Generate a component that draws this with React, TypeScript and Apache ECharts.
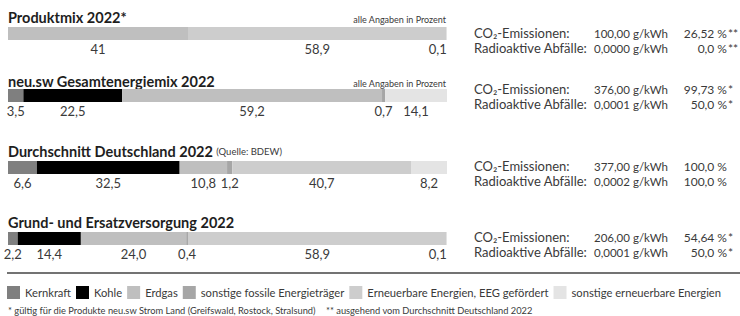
import React, { useEffect, useRef } from "react";
import * as echarts from "echarts";

const energyCategories = [
  "Kernkraft",
  "Kohle",
  "Erdgas",
  "sonstige fossile Energieträger",
  "Erneuerbare Energien, EEG gefördert",
  "sonstige erneuerbare Energien",
];

const rowTitles = [
  "Produktmix 2022*",
  "neu.sw Gesamtenergiemix 2022",
  "Durchschnitt Deutschland 2022",
  "Grund- und Ersatzversorgung 2022",
];
const rowSources = ["", "", "(Quelle: BDEW)", ""];
const rowNotes = ["alle Angaben in Prozent", "alle Angaben in Prozent", "", ""];

// percent shares per energy source, one value per row
const kernkraft = [0, 3.5, 6.6, 2.2];
const kohle = [0, 22.5, 32.5, 14.4];
const erdgas = [41, 59.2, 10.8, 24.0];
const sonstigeFossile = [0, 0.7, 1.2, 0.4];
const erneuerbarEEG = [58.9, 0, 40.7, 58.9];
const sonstigeErneuerbare = [0.1, 14.1, 8.2, 0.1];
const seriesValues = [kernkraft, kohle, erdgas, sonstigeFossile, erneuerbarEEG, sonstigeErneuerbare];

// right side key figures
const co2Values = ["100,00 g/kWh", "376,00 g/kWh", "377,00 g/kWh", "206,00 g/kWh"];
const co2Percent = ["26,52 %", "99,73 %", "100,0 %", "54,64 %"];
const co2Marks = ["**", "*", "", "*"];
const radValues = ["0,0000 g/kWh", "0,0001 g/kWh", "0,0002 g/kWh", "0,0001 g/kWh"];
const radPercent = ["0,0 %", "50,0 %", "100,0 %", "50,0 %"];
const radMarks = ["**", "*", "", "*"];

const footnote1 = "* gültig für die Produkte neu.sw Strom Land (Greifswald, Rostock, Stralsund)";
const footnote2 = "** ausgehend vom Durchschnitt Deutschland 2022";

// styles / layout
const palette = ["#7f7f7f", "#000000", "#bfbfbf", "#a6a6a6", "#cdcdcd", "#e4e4e4"];
const barTops = [27, 89, 161, 232];
const barHeight = 13;
const titleY = [17, 81, 151, 222];
const infoY = [33, 89, 166, 237];
const FONT = "Lato";
const TEXT = "#3a3a3a";

function fmt(row: number, v: number) {
  const s = row === 0 ? String(v) : v.toFixed(1);
  return s.replace(".", ",");
}

function txt(text: string, x: number, y: number, extra: any = {}) {
  const align = extra.align || "left";
  return {
    type: "text",
    silent: true,
    style: {
      text,
      x,
      y,
      fontFamily: FONT,
      fontSize: 13,
      fill: TEXT,
      align,
      textAlign: align,
      verticalAlign: "middle",
      textVerticalAlign: "middle",
      ...extra,
    },
  };
}

export default function App() {
  const ref = useRef<HTMLDivElement>(null);
  useEffect(() => {
    if (!ref.current) return;
    const chart = echarts.init(ref.current, undefined, { renderer: "svg" });

    const grids: any[] = [];
    const xAxes: any[] = [];
    const yAxes: any[] = [];
    const series: any[] = [];
    rowTitles.forEach((_, r) => {
      grids.push({ left: 8, width: 439, top: barTops[r], height: barHeight });
      xAxes.push({ type: "value", gridIndex: r, min: 0, max: 100, show: false });
      yAxes.push({ type: "category", gridIndex: r, data: [rowTitles[r]], show: false });
      energyCategories.forEach((name, c) => {
        const v = seriesValues[c][r];
        const lbl: any = { show: v > 0 };
        if (c === energyCategories.length - 1 && v < 1) lbl.align = "right";
        series.push({
          type: "bar",
          name,
          stack: "row" + r,
          xAxisIndex: r,
          yAxisIndex: r,
          barWidth: "100%",
          silent: true,
          itemStyle: { color: palette[c] },
          emphasis: { disabled: true },
          label: {
            show: true,
            position: "bottom",
            distance: 2,
            fontFamily: FONT,
            fontSize: 13,
            color: TEXT,
            formatter: (p: any) => fmt(r, p.value),
          },
          data: [{ value: v, label: lbl }],
        });
      });
    });

    const graphics: any[] = [];
    rowTitles.forEach((t, r) => {
      graphics.push({
        type: "text",
        silent: true,
        style: {
          text: rowSources[r] ? `{b|${t}} {s|${rowSources[r]}}` : `{b|${t}}`,
          x: 8,
          y: titleY[r],
          verticalAlign: "middle",
          textVerticalAlign: "middle",
          rich: {
            b: { fontFamily: FONT, fontSize: 14.5, fontWeight: "bold", fill: "#1e1e1e", color: "#1e1e1e" },
            s: { fontFamily: FONT, fontSize: 9.5, fill: TEXT, color: TEXT },
          },
        },
      });
      if (rowNotes[r]) {
        graphics.push(txt(rowNotes[r], 446, titleY[r] + 2, { fontSize: 9, align: "right" }));
      }
      const y1 = infoY[r];
      const y2 = infoY[r] + 15;
      graphics.push(txt("CO₂-Emissionen:", 474, y1));
      graphics.push(txt("Radioaktive Abfälle:", 474, y2));
      graphics.push(txt(co2Values[r], 594, y1, { fontSize: 11.5 }));
      graphics.push(txt(radValues[r], 594, y2, { fontSize: 11.5 }));
      graphics.push(txt(co2Percent[r], 727, y1, { align: "right", fontSize: 12 }));
      graphics.push(txt(radPercent[r], 727, y2, { align: "right", fontSize: 12 }));
      if (co2Marks[r]) graphics.push(txt(co2Marks[r], 728, y1, { fontSize: 12 }));
      if (radMarks[r]) graphics.push(txt(radMarks[r], 728, y2, { fontSize: 12 }));
    });
    graphics.push({
      type: "line",
      silent: true,
      shape: { x1: 7, y1: 273, x2: 740, y2: 273 },
      style: { stroke: "#444444", lineWidth: 1.5 },
    });
    graphics.push(txt(footnote1, 8, 310, { fontSize: 9.3 }));
    graphics.push(txt(footnote2, 326, 310, { fontSize: 9.3 }));

    chart.setOption({
      animation: false,
      grid: grids,
      xAxis: xAxes,
      yAxis: yAxes,
      legend: {
        data: energyCategories,
        left: 7,
        top: 286,
        padding: 0,
        itemWidth: 13,
        itemHeight: 13,
        itemGap: 5,
        icon: "rect",
        selectedMode: false,
        textStyle: { fontFamily: FONT, fontSize: 11.2, color: TEXT },
      },
      series,
      graphic: graphics,
    });
    return () => chart.dispose();
  }, []);
  return (
    <div
      ref={ref}
      style={{ position: "fixed", left: 0, top: 0, width: 740, height: 316, background: "#ffffff" }}
    />
  );
}
